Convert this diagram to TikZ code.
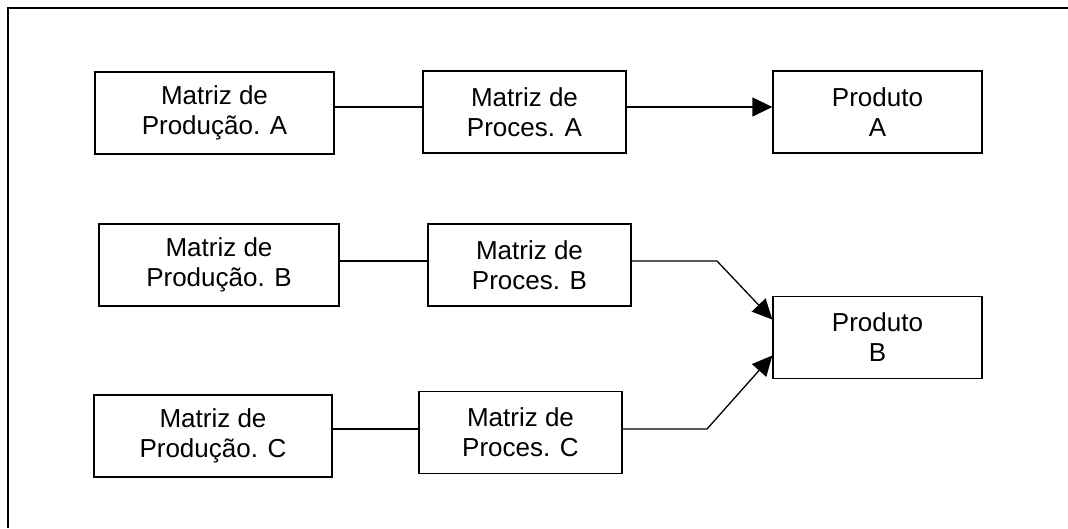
\documentclass[tikz,border=0pt]{standalone}
\usepackage{fontspec}
\setmainfont{Liberation Sans}
\usetikzlibrary{arrows.meta}

\begin{document}
\begin{tikzpicture}[x=1pt, y=-1pt, line width=1.3pt,
        box/.style={draw, rectangle, minimum height=82pt, inner sep=0pt, align=center, font=\fontsize{26}{30}\selectfont},
        >={Triangle[length=20pt, width=19pt]}]
        \useasboundingbox (0, 0) rectangle (1068, 528);
        \draw[line width=1.5pt] (8, 528) -- (8, 8) -- (1068, 8);

        \node[box, minimum width=239pt] at (214.5, 113)  (prodA)   {Matriz de\\Produção. A};
        \node[box, minimum width=203pt] at (524.5, 112)  (procA)   {Matriz de\\Proces. A};
        \node[box, minimum width=209pt] at (877.5, 112)  (outA)    {Produto\\A};

        \node[box, minimum width=240pt] at (219, 265)    (prodB)   {Matriz de\\Produção. B};
        \node[box, minimum width=203pt] at (529.5, 265)  (procB)   {Matriz de\\Proces. B};
        \node[box, minimum width=209pt] at (877.5, 337.5) (outB)   {Produto\\B};

        \node[box, minimum width=238pt] at (213, 436)    (prodC)   {Matriz de\\Produção. C};
        \node[box, minimum width=203pt] at (520.5, 432.5) (procC)  {Matriz de\\Proces. C};

        \coordinate (lineA) at (700, 107);
        \coordinate (kneeB) at (717, 261);
        \coordinate (kneeC) at (707, 429);

        \draw (prodA.east |- lineA) -- (procA.west |- lineA);
        \draw[->] (procA.east |- lineA) -- (outA.west |- lineA);

        \draw (prodB.east |- kneeB) -- (procB.west |- kneeB);
        \draw[->] (procB.east |- kneeB) -- (kneeB) -- ([yshift=18pt]outB.west);

        \draw (prodC.east |- kneeC) -- (procC.west |- kneeC);
        \draw[->] (procC.east |- kneeC) -- (kneeC) -- ([yshift=-18pt]outB.west);
    \end{tikzpicture}
\end{document}
